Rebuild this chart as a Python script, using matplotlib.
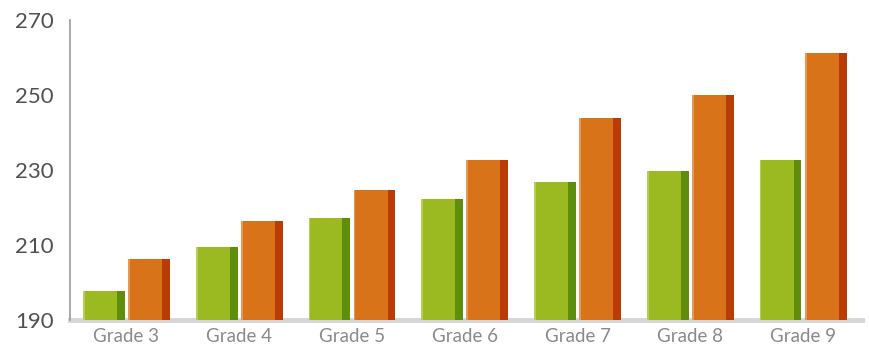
import matplotlib.pyplot as plt
import numpy as np

plt.rcParams['font.family'] = ['Lato', 'DejaVu Sans']

grades = ['Grade 3', 'Grade 4', 'Grade 5', 'Grade 6', 'Grade 7', 'Grade 8', 'Grade 9']
green_vals = [197.8, 209.5, 217.3, 222.3, 226.8, 229.8, 232.7]
orange_vals = [206.4, 216.5, 224.7, 232.8, 243.9, 250.0, 261.1]
y_ticks = [190, 210, 230, 250, 270]

BASE = 190
bar_w = 0.37
off = 0.2
shade_w = 0.07

fig = plt.figure(figsize=(8.7, 3.5), dpi=100)
ax = fig.add_axes([0.0805, 0.0857, 0.910, 0.857])

x = np.arange(len(grades))

def fancy_bars(xc, vals, main, dark, light):
    h = np.array(vals) - BASE
    ax.bar(xc, h, bar_w, bottom=BASE, color=main, zorder=2)
    # darker strip on the right side
    ax.bar(xc + bar_w / 2 - shade_w / 2, h, shade_w, bottom=BASE, color=dark, zorder=3)
    # thin highlight on the left edge
    ax.bar(xc - bar_w / 2 + 0.008, h, 0.016, bottom=BASE, color=light, zorder=3)

fancy_bars(x - off, green_vals, '#9bba22', '#5f8d0c', '#b5cf55')
fancy_bars(x + off, orange_vals, '#d8731a', '#b93c06', '#e49a55')

ax.set_xlim(-0.5, 6.52)
ax.set_ylim(190, 270)
ax.set_yticks(y_ticks)
ax.set_xticks(x)
ax.set_xticklabels(grades)

for s in ['top', 'right']:
    ax.spines[s].set_visible(False)
ax.spines['left'].set_color('#9a9a9a')
ax.spines['left'].set_linewidth(1.2)
ax.spines['bottom'].set_color('#d6d6d6')
ax.spines['bottom'].set_linewidth(3.5)
ax.spines['bottom'].set_zorder(1)

ax.tick_params(axis='y', length=0, pad=12, labelsize=16, labelcolor='#505050')
ax.tick_params(axis='x', length=0, pad=6, labelsize=13.5, labelcolor='#8a8a8a')

fig.savefig('out.png', dpi=100)
